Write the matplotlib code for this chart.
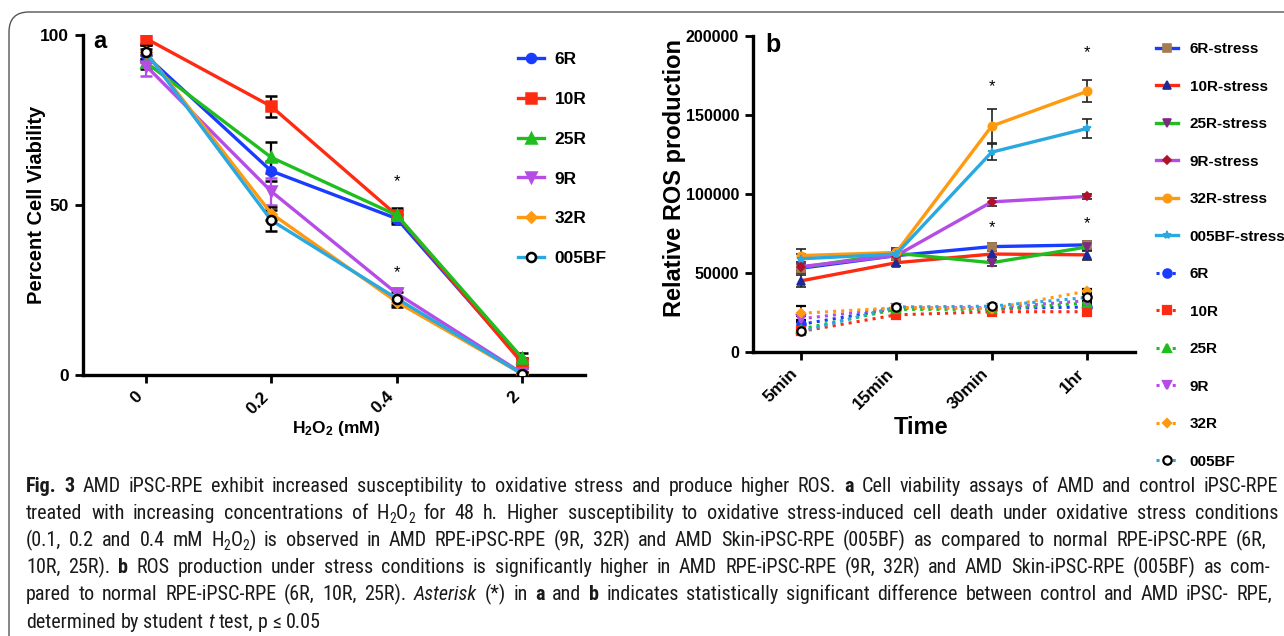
import os
import matplotlib
matplotlib.use('Agg')
import matplotlib.pyplot as plt
from matplotlib.lines import Line2D
from matplotlib.patches import FancyBboxPatch
from matplotlib.transforms import IdentityTransform
from matplotlib import font_manager as fm
from matplotlib.font_manager import FontProperties

plt.rcParams['font.family'] = ['Liberation Sans', 'DejaVu Sans']
plt.rcParams['mathtext.fontset'] = 'custom'
plt.rcParams['mathtext.rm'] = 'Liberation Sans'
plt.rcParams['mathtext.bf'] = 'Liberation Sans:bold'
plt.rcParams['mathtext.it'] = 'Liberation Sans:italic'

# ---------------- data: panel a ----------------
conc_labels = ['0', '0.2', '0.4', '2']
a_names = ['6R', '10R', '25R', '9R', '32R', '005BF']
a_6R = [94, 60, 46, 4]
a_10R = [99, 79, 47, 3.5]
a_25R = [92, 64, 47, 5]
a_9R = [91, 54, 24, 0.5]
a_32R = [95, 47.5, 21.5, 0.3]
a_005BF = [95, 45.5, 22.5, 0.3]
a_err_6R = [2, 3, 1.5, 1]
a_err_10R = [1.5, 3, 2, 1.5]
a_err_25R = [2, 4.5, 1.5, 1.5]
a_err_9R = [3, 4, 1.5, 0.5]
a_err_32R = [2, 2, 1.5, 0.5]
a_err_005BF = [2, 3, 2, 0.5]
a_star_y = [57, 30]

# ---------------- data: panel b ----------------
time_labels = ['5min', '15min', '30min', '1hr']
b_stress_names = ['6R-stress', '10R-stress', '25R-stress', '9R-stress', '32R-stress', '005BF-stress']
b_6R_s = [53000, 61000, 66700, 67800]
b_10R_s = [45000, 56500, 62000, 61500]
b_25R_s = [53500, 62500, 56500, 66500]
b_9R_s = [54000, 61000, 95000, 98500]
b_32R_s = [61000, 63000, 143000, 165000]
b_005BF_s = [59000, 62000, 126500, 141500]
b_err_6R_s = [3000, 2500, 2500, 2500]
b_err_10R_s = [4000, 2000, 2000, 3000]
b_err_25R_s = [2500, 2000, 2000, 2500]
b_err_9R_s = [2000, 2000, 2500, 1500]
b_err_32R_s = [4000, 3000, 10500, 7000]
b_err_005BF_s = [3000, 2500, 5000, 6000]

b_ctrl_names = ['6R', '10R', '25R', '9R', '32R', '005BF']
b_6R = [17500, 27500, 27500, 28500]
b_10R = [13000, 23500, 25500, 25500]
b_25R = [14500, 27000, 27000, 31000]
b_9R = [21000, 28000, 28000, 32500]
b_32R = [24500, 28000, 27500, 38500]
b_005BF = [13000, 28500, 29000, 34500]
b_err_6R = [1500, 1500, 1500, 1500]
b_err_10R = [1500, 1500, 1500, 1500]
b_err_25R = [1500, 1500, 1500, 1500]
b_err_9R = [1500, 1500, 1500, 1500]
b_err_32R = [4500, 1500, 1500, 1500]
b_err_005BF = [1500, 1500, 1500, 3000]
b_star_pos = [(2, 168000), (3, 189500), (2, 79000), (3, 81000)]

W, H = 1284, 636
fig = plt.figure(figsize=(W / 100, H / 100), dpi=100)


def fx(x):
    return x / W


def fy(y):
    return 1 - y / H


def T(x, y, s, **kw):
    return fig.text(fx(x), fy(y), s, **kw)


BLUE = '#1a3cff'
RED = '#ff2a12'
GREEN = '#1ebe1e'
PURPLE = '#b54ce6'
ORANGE = '#ff9a10'
LBLUE = '#2aa8e0'


def style_axes(ax, ysize=12.5):
    for s in ['top', 'right']:
        ax.spines[s].set_visible(False)
    for s in ['left', 'bottom']:
        ax.spines[s].set_linewidth(2.4)
    ax.tick_params(direction='out', length=6, width=2.0, pad=4)
    for lab in ax.get_xticklabels():
        lab.set_fontweight('bold')
        lab.set_fontsize(12.5)
    for lab in ax.get_yticklabels():
        lab.set_fontweight('bold')
        lab.set_fontsize(ysize)


# ---------------- panel a ----------------
axa = fig.add_axes([fx(83), fy(375), (585 - 83) / W, (375 - 35) / H])
xa = list(range(len(conc_labels)))
a_sets = [
    (a_6R, a_err_6R, BLUE, 'o', BLUE, BLUE, 'k'),
    (a_10R, a_err_10R, RED, 's', RED, RED, 'k'),
    (a_25R, a_err_25R, GREEN, '^', GREEN, GREEN, 'k'),
    (a_9R, a_err_9R, PURPLE, 'v', PURPLE, PURPLE, PURPLE),
    (a_32R, a_err_32R, ORANGE, 'D', ORANGE, ORANGE, 'k'),
    (a_005BF, a_err_005BF, LBLUE, 'o', 'white', 'k', 'k'),
]
a_handles = []
for (vals, errs, c, m, mfc, mec, ec), name in zip(a_sets, a_names):
    ms = 5 if m == 'D' else 6.5
    axa.errorbar(xa, vals, yerr=errs, color=c, lw=2.4, marker=m, ms=ms, mfc=mfc, mec=mec,
                 mew=1.8, ecolor=ec, elinewidth=1.6, capsize=4.5, capthick=1.6, zorder=3)
    a_handles.append(Line2D([], [], color=c, lw=2.4, marker=m, ms=ms, mfc=mfc, mec=mec, mew=1.8))
for yv in a_star_y:
    axa.text(2, yv, '*', ha='center', va='center', fontsize=12)
axa.set_xlim(-0.5, 3.5)
axa.set_ylim(0, 100)
axa.set_yticks([0, 50, 100])
axa.set_xticks(xa)
axa.set_xticklabels(conc_labels, rotation=45, ha='right')
style_axes(axa)
axa.legend(a_handles, a_names, loc='upper left', bbox_to_anchor=(fx(518), fy(52)),
           bbox_transform=fig.transFigure, frameon=False, borderpad=0, borderaxespad=0,
           handlelength=1.5, handletextpad=0.6, labelspacing=1.42,
           prop={'weight': 'bold', 'size': 12.5})
T(100, 42, 'a', fontsize=17, fontweight='bold', ha='center', va='center')
T(37, 205, 'Percent Cell Viability', rotation=90, fontsize=14.5, fontweight='bold',
  ha='center', va='center')
T(336, 428, r'$\mathbf{H_2O_2}$ (mM)', fontsize=12.5, fontweight='bold', ha='center', va='center')

# ---------------- panel b ----------------
axb = fig.add_axes([fx(753), fy(352), (1135 - 753) / W, (352 - 36) / H])
xb = list(range(len(time_labels)))
s_sets = [
    (b_6R_s, b_err_6R_s, BLUE, 's', '#a57c4f', '#a57c4f'),
    (b_10R_s, b_err_10R_s, RED, '^', '#1a2a9a', '#1a2a9a'),
    (b_25R_s, b_err_25R_s, GREEN, 'v', '#7d2a84', '#7d2a84'),
    (b_9R_s, b_err_9R_s, PURPLE, 'D', '#b0102a', '#b0102a'),
    (b_32R_s, b_err_32R_s, ORANGE, 'o', ORANGE, ORANGE),
    (b_005BF_s, b_err_005BF_s, LBLUE, '*', LBLUE, LBLUE),
]
c_sets = [
    (b_6R, b_err_6R, BLUE, 'o', BLUE, BLUE),
    (b_10R, b_err_10R, RED, 's', RED, RED),
    (b_25R, b_err_25R, GREEN, '^', GREEN, GREEN),
    (b_9R, b_err_9R, PURPLE, 'v', PURPLE, PURPLE),
    (b_32R, b_err_32R, ORANGE, 'D', ORANGE, ORANGE),
    (b_005BF, b_err_005BF, LBLUE, 'o', 'white', 'k'),
]
b_handles = []
for (vals, errs, c, m, mfc, mec) in c_sets:
    ms = 4.5 if m == 'D' else 6
    axb.errorbar(xb, vals, yerr=errs, color=c, lw=2.2, ls=':', marker=m, ms=ms, mfc=mfc,
                 mec=mec, mew=1.6, ecolor='k', elinewidth=1.2, capsize=3.5, capthick=1.2, zorder=2)
for (vals, errs, c, m, mfc, mec) in s_sets:
    ms = 4.5 if m == 'D' else 6
    axb.errorbar(xb, vals, yerr=errs, color=c, lw=2.4, marker=m, ms=ms, mfc=mfc,
                 mec=mec, mew=1.2, ecolor='#222222', elinewidth=1.2, capsize=3.5, capthick=1.2, zorder=3)
for (vals, errs, c, m, mfc, mec) in s_sets:
    ms = 4.5 if m == 'D' else 6
    b_handles.append(Line2D([], [], color=c, lw=2.4, marker=m, ms=ms, mfc=mfc, mec=mec, mew=1.2))
for (vals, errs, c, m, mfc, mec) in c_sets:
    ms = 4.5 if m == 'D' else 6
    b_handles.append(Line2D([], [], color=c, lw=2.2, ls=':', marker=m, ms=ms, mfc=mfc, mec=mec, mew=1.6))
for (xs, ys) in b_star_pos:
    axb.text(xs, ys, '*', ha='center', va='center', fontsize=12)
axb.set_xlim(-0.5, 3.5)
axb.set_ylim(0, 200000)
axb.set_yticks([0, 50000, 100000, 150000, 200000])
axb.set_yticklabels(['0', '50000', '100000', '150000', '200000'])
axb.set_xticks(xb)
axb.set_xticklabels(time_labels, rotation=45, ha='right')
style_axes(axb, ysize=11.5)
axb.legend(b_handles, b_stress_names + b_ctrl_names, loc='upper left',
           bbox_to_anchor=(fx(1156), fy(42)), bbox_transform=fig.transFigure, frameon=False,
           borderpad=0, borderaxespad=0, handlelength=1.45, handletextpad=0.75,
           labelspacing=1.54, prop={'weight': 'bold', 'size': 11})
T(773, 45, 'b', fontsize=18, fontweight='bold', ha='center', va='center')
T(674, 178, 'Relative ROS production', rotation=90, fontsize=17, fontweight='bold',
  ha='center', va='center')
T(921, 427, 'Time', fontsize=17, fontweight='bold', ha='center', va='center')

# ---------------- frame ----------------
frame = FancyBboxPatch((9, -30), 1320, H - 12 + 30, boxstyle='round,pad=0,rounding_size=20',
                       transform=IdentityTransform(), fill=False, ec='#555555', lw=1.0)
fig.patches.append(frame)


# ---------------- caption font selection ----------------
def _wnum(w):
    if isinstance(w, (int, float)):
        return int(w)
    return {'normal': 400, 'regular': 400, 'book': 400, 'medium': 500, 'semibold': 600,
            'demibold': 600, 'bold': 700, 'heavy': 800, 'black': 900, 'light': 300}.get(str(w).lower(), 400)


groups = {}
for f in fm.fontManager.ttflist:
    fn = os.path.basename(f.fname).lower()
    nm = f.name.lower()
    if not (('condensed' in fn or 'narrow' in fn or 'condensed' in nm or 'narrow' in nm)):
        continue
    if any(b in fn.replace('condensed', '').replace('narrow', '') for b in ('semi', 'extra', 'ultra', 'mono')):
        continue
    if 'serif' in nm and 'sans' not in nm:
        continue
    groups.setdefault(f.name, []).append(f)


def pick(entries, bold, italic):
    best = None
    for f in entries:
        fn = os.path.basename(f.fname).lower().replace('condensed', '').replace('narrow', '')
        w = _wnum(f.weight)
        is_it = f.style in ('italic', 'oblique')
        if is_it != italic:
            continue
        if bold and 600 <= w <= 750 and not any(b in fn for b in ('light', 'thin', 'black', 'semibold', 'extrabold', 'medium')):
            best = f
        if (not bold) and w == 400 and not any(b in fn for b in ('light', 'thin', 'black', 'medium', 'bold')):
            best = f
    return best


pref = ['liberation sans narrow', 'roboto condensed', 'open sans condensed', 'noto sans condensed',
        'noto sans', 'dejavu sans condensed', 'dejavu sans']
cap_fp = None
ranked = sorted(groups.keys(), key=lambda n: next((i for i, p in enumerate(pref) if n.lower().startswith(p)), 99))
for nm in ranked:
    r = pick(groups[nm], False, False)
    b = pick(groups[nm], True, False)
    if r is not None and b is not None:
        it = pick(groups[nm], False, True)
        cap_fp = {'n': r.fname, 'b': b.fname, 'i': (it.fname if it is not None else r.fname), 's': r.fname}
        break

# ---------------- caption ----------------
cap_lines = [
    [('Fig. 3', 'b'), ('  AMD iPSC-RPE exhibit increased susceptibility to oxidative stress and produce higher ROS. ', 'n'),
     ('a', 'b'), (' Cell viability assays of AMD and control iPSC-RPE', 'n')],
    [('treated with increasing concentrations of H', 'n'), ('2', 's'), ('O', 'n'), ('2', 's'),
     (' for 48 h. Higher susceptibility to oxidative stress-induced cell death under oxidative stress conditions', 'n')],
    [('(0.1, 0.2 and 0.4 mM H', 'n'), ('2', 's'), ('O', 'n'), ('2', 's'),
     (') is observed in AMD RPE-iPSC-RPE (9R, 32R) and AMD Skin-iPSC-RPE (005BF) as compared to normal RPE-iPSC-RPE (6R,', 'n')],
    [('10R, 25R). ', 'n'), ('b', 'b'),
     (' ROS production under stress conditions is significantly higher in AMD RPE-iPSC-RPE (9R, 32R) and AMD Skin-iPSC-RPE (005BF) as com-', 'n')],
    [('pared to normal RPE-iPSC-RPE (6R, 10R, 25R). ', 'n'), ('Asterisk', 'i'), (' (*) in ', 'n'), ('a', 'b'),
     (' and ', 'n'), ('b', 'b'),
     (' indicates statistically significant difference between control and AMD iPSC- RPE,', 'n')],
    [('determined by student ', 'n'), ('t', 'i'), (' test, p \u2264 0.05', 'n')],
]
cap_right = [1278, 1278, 1266, 1270, 1272, None]
cap_left = 26
cap_base0 = 491.5
cap_dy = 27.2

renderer = fig.canvas.get_renderer()


def make_words(runs):
    words = [[]]
    for txt, st in runs:
        parts = txt.split(' ')
        for i, p in enumerate(parts):
            if i > 0:
                words.append([])
            if p:
                words[-1].append((p, st))
    return [w for w in words if w]


def piece_props(st, size):
    sz = size * 0.68 if st == 's' else size
    if cap_fp is not None:
        return dict(fontproperties=FontProperties(fname=cap_fp[st], size=sz), color='#1a1a1a')
    kw = dict(family=['Liberation Sans', 'DejaVu Sans'], fontsize=sz, color='#1a1a1a')
    if st == 'b':
        kw['fontweight'] = 'bold'
    elif st == 'i':
        kw['fontstyle'] = 'italic'
    return kw


def measure(s, kw):
    t = fig.text(0, 0, s, **kw)
    w = t.get_window_extent(renderer).width
    t.remove()
    return w


def word_width(word, size):
    return sum(measure(p, piece_props(st, size)) for p, st in word)


size = 14.5
all_words = [make_words(r) for r in cap_lines]


def space_width(size):
    return measure('a a', piece_props('n', size)) - measure('aa', piece_props('n', size))


space_w = space_width(size)
nat = [sum(word_width(w, size) for w in ws) + space_w * (len(ws) - 1) for ws in all_words]
maxw = max(n for n, r in zip(nat, cap_right) if r is not None)
if maxw > (1278 - cap_left) * 0.985:
    size = size * (1278 - cap_left) * 0.985 / maxw
    space_w = space_width(size)

for li, (ws, rr) in enumerate(zip(all_words, cap_right)):
    yb = cap_base0 + li * cap_dy
    widths = [word_width(w, size) for w in ws]
    if rr is not None and len(ws) > 1:
        gap = (rr - cap_left - sum(widths)) / (len(ws) - 1)
    else:
        gap = space_w
    x = cap_left
    for w, ww in zip(ws, widths):
        xx = x
        for p, st in w:
            kw = piece_props(st, size)
            dy = 4 if st == 's' else 0
            T(xx, yb + dy, p, ha='left', va='baseline', **kw)
            xx += measure(p, kw)
        x += ww + gap

fig.savefig('out.png', dpi=100)
